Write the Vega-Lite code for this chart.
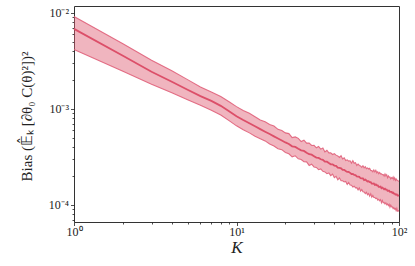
{
  "$schema": "https://vega.github.io/schema/vega-lite/v6.json",
  "width": 325,
  "height": 216,
  "autosize": "none",
  "padding": {"left": 74, "top": 6, "right": 16, "bottom": 44},
  "background": "white",
  "config": {
    "view": {"stroke": "#333333", "strokeWidth": 1},
    "axis": {"labelFont": "Liberation Serif", "titleFont": "Liberation Serif", "labelColor": "#222222", "titleColor": "#222222", "tickColor": "#222222", "domain": false, "grid": false, "tickWidth": 0.8}
  },
  "data": {"values": [
    {"K":1,"mean":6.79e-3,"lo":4.14e-3,"hi":9.12e-3},
    {"K":2,"mean":3.56e-3,"lo":2.46e-3,"hi":4.75e-3},
    {"K":3,"mean":2.43e-3,"lo":1.80e-3,"hi":3.20e-3},
    {"K":4,"mean":1.91e-3,"lo":1.466e-3,"hi":2.49e-3},
    {"K":5,"mean":1.578e-3,"lo":1.239e-3,"hi":2.01e-3},
    {"K":6,"mean":1.355e-3,"lo":1.088e-3,"hi":1.687e-3},
    {"K":7,"mean":1.208e-3,"lo":9.66e-4,"hi":1.498e-3},
    {"K":8,"mean":1.072e-3,"lo":8.61e-4,"hi":1.34e-3},
    {"K":9,"mean":9.44e-4,"lo":7.52e-4,"hi":1.185e-3},
    {"K":10,"mean":8.36e-4,"lo":6.64e-4,"hi":1.052e-3},
    {"K":11,"mean":7.63e-4,"lo":6.06e-4,"hi":9.61e-4},
    {"K":12,"mean":7.06e-4,"lo":5.61e-4,"hi":8.98e-4},
    {"K":13,"mean":6.57e-4,"lo":5.17e-4,"hi":8.27e-4},
    {"K":14,"mean":6.14e-4,"lo":4.88e-4,"hi":7.65e-4},
    {"K":15,"mean":5.77e-4,"lo":4.63e-4,"hi":7.34e-4},
    {"K":16,"mean":5.45e-4,"lo":4.29e-4,"hi":6.86e-4},
    {"K":17,"mean":5.16e-4,"lo":4.10e-4,"hi":6.60e-4},
    {"K":18,"mean":4.90e-4,"lo":3.83e-4,"hi":6.11e-4},
    {"K":19,"mean":4.67e-4,"lo":3.75e-4,"hi":5.94e-4},
    {"K":20,"mean":4.46e-4,"lo":3.51e-4,"hi":5.61e-4},
    {"K":21,"mean":4.29e-4,"lo":3.40e-4,"hi":5.51e-4},
    {"K":22,"mean":4.06e-4,"lo":3.16e-4,"hi":5.01e-4},
    {"K":23,"mean":4.00e-4,"lo":3.24e-4,"hi":5.09e-4},
    {"K":24,"mean":3.83e-4,"lo":3.01e-4,"hi":4.92e-4},
    {"K":25,"mean":3.69e-4,"lo":2.96e-4,"hi":4.56e-4},
    {"K":26,"mean":3.64e-4,"lo":2.81e-4,"hi":4.71e-4},
    {"K":27,"mean":3.49e-4,"lo":2.80e-4,"hi":4.39e-4},
    {"K":28,"mean":3.36e-4,"lo":2.57e-4,"hi":4.40e-4},
    {"K":29,"mean":3.33e-4,"lo":2.65e-4,"hi":4.15e-4},
    {"K":30,"mean":3.21e-4,"lo":2.48e-4,"hi":4.16e-4},
    {"K":31,"mean":3.10e-4,"lo":2.45e-4,"hi":3.92e-4},
    {"K":32,"mean":3.08e-4,"lo":2.32e-4,"hi":4.05e-4},
    {"K":33,"mean":2.98e-4,"lo":2.36e-4,"hi":3.80e-4},
    {"K":34,"mean":2.94e-4,"lo":2.23e-4,"hi":3.90e-4},
    {"K":35,"mean":2.81e-4,"lo":2.20e-4,"hi":3.55e-4},
    {"K":36,"mean":2.81e-4,"lo":2.11e-4,"hi":3.70e-4},
    {"K":37,"mean":2.72e-4,"lo":2.15e-4,"hi":3.47e-4},
    {"K":38,"mean":2.64e-4,"lo":2.01e-4,"hi":3.47e-4},
    {"K":39,"mean":2.64e-4,"lo":2.09e-4,"hi":3.34e-4},
    {"K":40,"mean":2.56e-4,"lo":1.92e-4,"hi":3.40e-4},
    {"K":41,"mean":2.54e-4,"lo":1.98e-4,"hi":3.29e-4},
    {"K":42,"mean":2.44e-4,"lo":1.82e-4,"hi":3.23e-4},
    {"K":43,"mean":2.42e-4,"lo":1.90e-4,"hi":3.11e-4},
    {"K":44,"mean":2.40e-4,"lo":1.78e-4,"hi":3.24e-4},
    {"K":45,"mean":2.31e-4,"lo":1.78e-4,"hi":3.00e-4},
    {"K":46,"mean":2.31e-4,"lo":1.73e-4,"hi":3.09e-4},
    {"K":47,"mean":2.25e-4,"lo":1.75e-4,"hi":2.89e-4},
    {"K":48,"mean":2.20e-4,"lo":1.63e-4,"hi":2.94e-4},
    {"K":49,"mean":2.20e-4,"lo":1.71e-4,"hi":2.85e-4},
    {"K":50,"mean":2.15e-4,"lo":1.61e-4,"hi":2.87e-4},
    {"K":51,"mean":2.09e-4,"lo":1.60e-4,"hi":2.72e-4},
    {"K":52,"mean":2.10e-4,"lo":1.53e-4,"hi":2.88e-4},
    {"K":53,"mean":2.05e-4,"lo":1.56e-4,"hi":2.70e-4},
    {"K":54,"mean":2.04e-4,"lo":1.50e-4,"hi":2.74e-4},
    {"K":55,"mean":1.97e-4,"lo":1.51e-4,"hi":2.57e-4},
    {"K":56,"mean":1.96e-4,"lo":1.43e-4,"hi":2.66e-4},
    {"K":57,"mean":1.95e-4,"lo":1.50e-4,"hi":2.57e-4},
    {"K":58,"mean":1.89e-4,"lo":1.39e-4,"hi":2.54e-4},
    {"K":59,"mean":1.88e-4,"lo":1.44e-4,"hi":2.45e-4},
    {"K":60,"mean":1.88e-4,"lo":1.37e-4,"hi":2.55e-4},
    {"K":61,"mean":1.81e-4,"lo":1.36e-4,"hi":2.43e-4},
    {"K":62,"mean":1.83e-4,"lo":1.31e-4,"hi":2.50e-4},
    {"K":63,"mean":1.79e-4,"lo":1.35e-4,"hi":2.38e-4},
    {"K":64,"mean":1.75e-4,"lo":1.27e-4,"hi":2.42e-4},
    {"K":65,"mean":1.76e-4,"lo":1.31e-4,"hi":2.36e-4},
    {"K":66,"mean":1.72e-4,"lo":1.23e-4,"hi":2.40e-4},
    {"K":67,"mean":1.72e-4,"lo":1.30e-4,"hi":2.28e-4},
    {"K":68,"mean":1.66e-4,"lo":1.20e-4,"hi":2.27e-4},
    {"K":69,"mean":1.66e-4,"lo":1.25e-4,"hi":2.21e-4},
    {"K":70,"mean":1.67e-4,"lo":1.19e-4,"hi":2.31e-4},
    {"K":71,"mean":1.61e-4,"lo":1.19e-4,"hi":2.20e-4},
    {"K":72,"mean":1.63e-4,"lo":1.16e-4,"hi":2.29e-4},
    {"K":73,"mean":1.59e-4,"lo":1.17e-4,"hi":2.15e-4},
    {"K":74,"mean":1.59e-4,"lo":1.12e-4,"hi":2.21e-4},
    {"K":75,"mean":1.54e-4,"lo":1.14e-4,"hi":2.11e-4},
    {"K":76,"mean":1.54e-4,"lo":1.10e-4,"hi":2.17e-4},
    {"K":77,"mean":1.55e-4,"lo":1.13e-4,"hi":2.10e-4},
    {"K":78,"mean":1.49e-4,"lo":1.05e-4,"hi":2.10e-4},
    {"K":79,"mean":1.51e-4,"lo":1.11e-4,"hi":2.06e-4},
    {"K":80,"mean":1.48e-4,"lo":1.05e-4,"hi":2.06e-4},
    {"K":81,"mean":1.45e-4,"lo":1.06e-4,"hi":1.99e-4},
    {"K":82,"mean":1.47e-4,"lo":1.02e-4,"hi":2.10e-4},
    {"K":83,"mean":1.44e-4,"lo":1.05e-4,"hi":2.00e-4},
    {"K":84,"mean":1.44e-4,"lo":1.00e-4,"hi":2.06e-4},
    {"K":85,"mean":1.40e-4,"lo":1.02e-4,"hi":1.92e-4},
    {"K":86,"mean":1.40e-4,"lo":9.8e-5,"hi":2.00e-4},
    {"K":87,"mean":1.40e-4,"lo":1.01e-4,"hi":1.94e-4},
    {"K":88,"mean":1.36e-4,"lo":9.42e-5,"hi":1.94e-4},
    {"K":89,"mean":1.36e-4,"lo":9.91e-5,"hi":1.86e-4},
    {"K":90,"mean":1.36e-4,"lo":9.52e-5,"hi":1.92e-4},
    {"K":91,"mean":1.33e-4,"lo":9.52e-5,"hi":1.88e-4},
    {"K":92,"mean":1.34e-4,"lo":9.12e-5,"hi":1.95e-4},
    {"K":93,"mean":1.31e-4,"lo":9.37e-5,"hi":1.83e-4},
    {"K":94,"mean":1.31e-4,"lo":9.01e-5,"hi":1.91e-4},
    {"K":95,"mean":1.28e-4,"lo":9.16e-5,"hi":1.80e-4},
    {"K":96,"mean":1.28e-4,"lo":8.71e-5,"hi":1.86e-4},
    {"K":97,"mean":1.28e-4,"lo":9.16e-5,"hi":1.80e-4},
    {"K":98,"mean":1.25e-4,"lo":8.60e-5,"hi":1.80e-4},
    {"K":99,"mean":1.25e-4,"lo":8.68e-5,"hi":1.76e-4},
    {"K":100,"mean":1.24e-4,"lo":8.53e-5,"hi":1.77e-4}
  ]},
  "encoding": {
    "x": {
      "field": "K", "type": "quantitative",
      "scale": {"type": "log", "domain": [1, 100], "nice": false},
      "axis": {
        "title": "K", "titleFontStyle": "italic", "titleFontSize": 17, "titleFontWeight": "normal", "titlePadding": 2,
        "values": [1,2,3,4,5,6,7,8,9,10,20,30,40,50,60,70,80,90,100],
        "labelExpr": "datum.value == 1 ? '10⁰' : datum.value == 10 ? '10¹' : datum.value == 100 ? '10²' : ''",
        "labelFontSize": 12, "labelPadding": 1, "labelFlush": false,
        "tickSize": {"condition": {"test": "datum.value == 1 || datum.value == 10 || datum.value == 100", "value": 3.5}, "value": 2}
      }
    }
  },
  "layer": [
    {
      "mark": {"type": "area", "color": "#de5a70", "opacity": 0.45},
      "encoding": {
        "y": {
          "field": "hi", "type": "quantitative",
          "scale": {"type": "log", "domain": [6.62e-5, 0.01175], "nice": false},
          "axis": {
            "title": "Bias (𝔼̂ₖ [∂θ₀ C(θ)²])²", "titleFontSize": 15, "titleFontWeight": "normal",
            "titleX": -48, "titleY": 110, "titleBaseline": "middle", "titleAlign": "center",
            "values": [7e-5,8e-5,9e-5,1e-4,2e-4,3e-4,4e-4,5e-4,6e-4,7e-4,8e-4,9e-4,1e-3,2e-3,3e-3,4e-3,5e-3,6e-3,7e-3,8e-3,9e-3,1e-2],
            "labelExpr": "datum.value == 0.0001 ? '10⁻⁴' : datum.value == 0.001 ? '10⁻³' : datum.value == 0.01 ? '10⁻²' : ''",
            "labelFontSize": 12, "labelPadding": 2, "labelFlush": false,
            "tickSize": {"condition": {"test": "datum.value == 0.0001 || datum.value == 0.001 || datum.value == 0.01", "value": 3.5}, "value": 2}
          }
        },
        "y2": {"field": "lo"}
      }
    },
    {
      "mark": {"type": "line", "color": "#e0607a", "strokeWidth": 1.1, "opacity": 0.9},
      "encoding": {"y": {"field": "hi", "type": "quantitative"}}
    },
    {
      "mark": {"type": "line", "color": "#e0607a", "strokeWidth": 1.1, "opacity": 0.9},
      "encoding": {"y": {"field": "lo", "type": "quantitative"}}
    },
    {
      "mark": {"type": "line", "color": "#dc4f69", "strokeWidth": 1.8},
      "encoding": {"y": {"field": "mean", "type": "quantitative"}}
    }
  ]
}
